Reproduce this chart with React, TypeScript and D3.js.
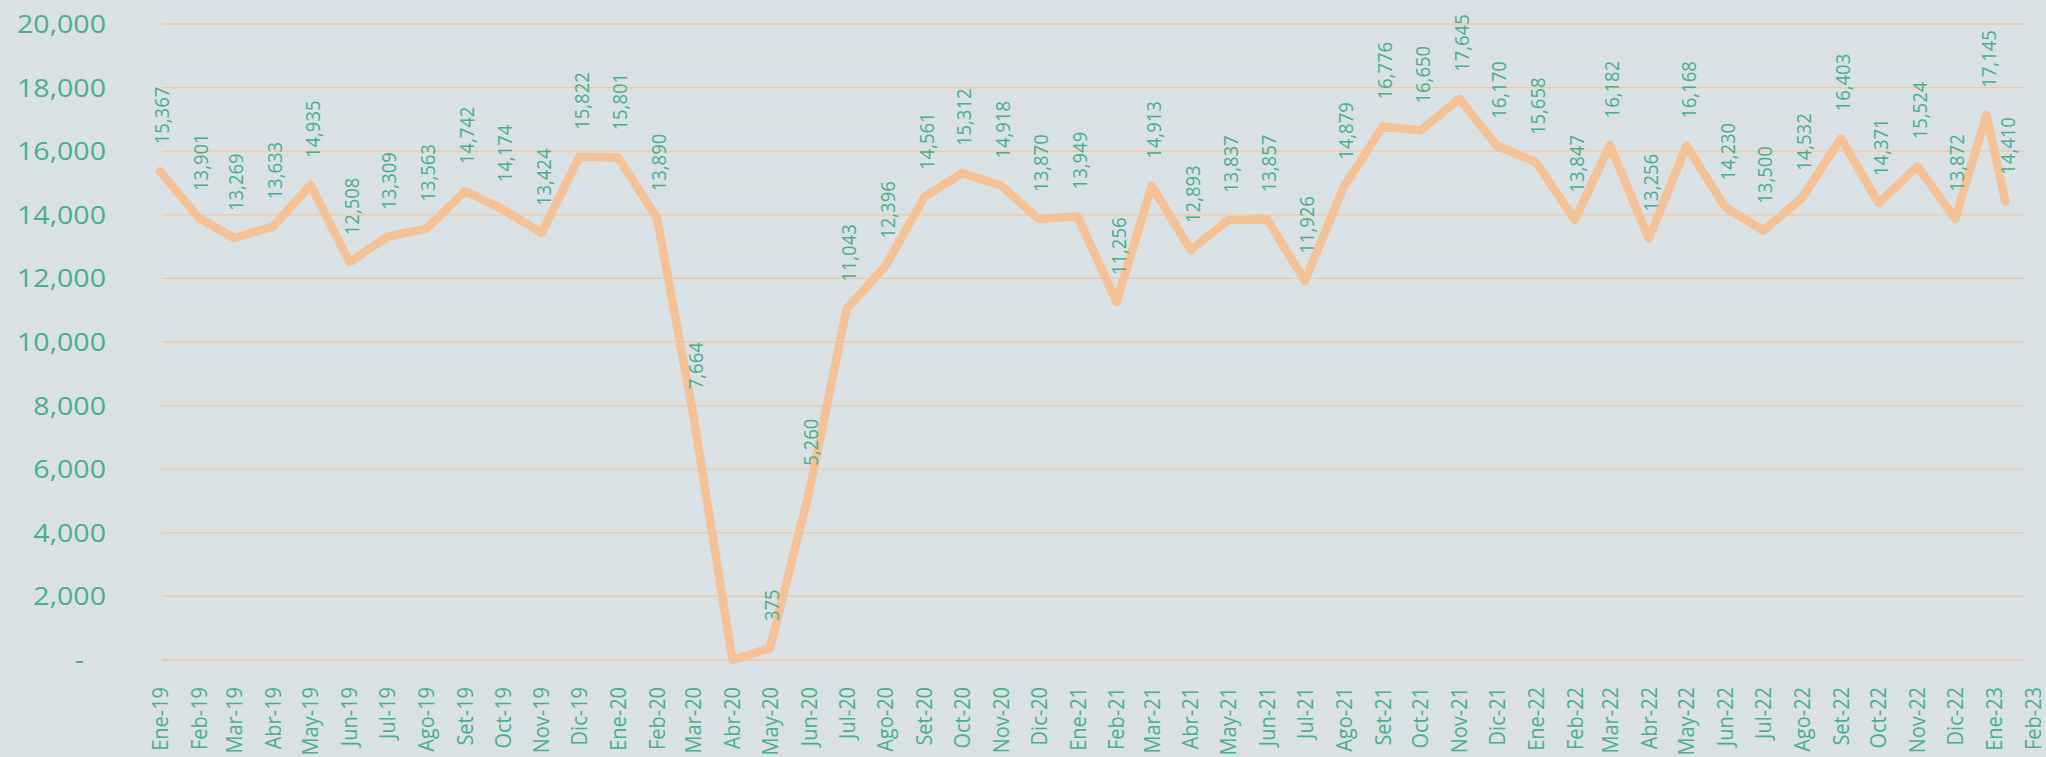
import React, { useEffect, useRef } from 'react';
import * as d3 from 'd3';

// month labels on the x axis
const months = [
  'Ene-19', 'Feb-19', 'Mar-19', 'Abr-19', 'May-19', 'Jun-19', 'Jul-19', 'Ago-19', 'Set-19', 'Oct-19', 'Nov-19', 'Dic-19',
  'Ene-20', 'Feb-20', 'Mar-20', 'Abr-20', 'May-20', 'Jun-20', 'Jul-20', 'Ago-20', 'Set-20', 'Oct-20', 'Nov-20', 'Dic-20',
  'Ene-21', 'Feb-21', 'Mar-21', 'Abr-21', 'May-21', 'Jun-21', 'Jul-21', 'Ago-21', 'Set-21', 'Oct-21', 'Nov-21', 'Dic-21',
  'Ene-22', 'Feb-22', 'Mar-22', 'Abr-22', 'May-22', 'Jun-22', 'Jul-22', 'Ago-22', 'Set-22', 'Oct-22', 'Nov-22', 'Dic-22',
  'Ene-23', 'Feb-23',
];

// first day of every labelled month
const monthDates = months.map((_, i) => new Date(Date.UTC(2019, i, 1)));

// dates the values are plotted at (last two fall inside the month, as in the original)
const pointDates = [
  ...monthDates.slice(0, 48),
  new Date(Date.UTC(2022, 11, 26)),
  new Date(Date.UTC(2023, 0, 10)),
];

const values = [
  15367, 13901, 13269, 13633, 14935, 12508, 13309, 13563, 14742, 14174, 13424, 15822,
  15801, 13890, 7664, 0, 375, 5260, 11043, 12396, 14561, 15312, 14918, 13870,
  13949, 11256, 14913, 12893, 13837, 13857, 11926, 14879, 16776, 16650, 17645, 16170,
  15658, 13847, 16182, 13256, 16168, 14230, 13500, 14532, 16403, 14371, 15524, 13872,
  17145, 14410,
];

const yTicks = [0, 2000, 4000, 6000, 8000, 10000, 12000, 14000, 16000, 18000, 20000];

const GREEN = '#4aae8c';
const FONT = '"Open Sans", "DejaVu Sans", sans-serif';

export default function App() {
  const svgRef = useRef<SVGSVGElement>(null);

  useEffect(() => {
    const width = 2046;
    const height = 757;
    const plotLeft = 162;
    const plotRight = 2024;

    const svg = d3.select(svgRef.current).attr('width', width).attr('height', height);
    svg.selectAll('*').remove();

    svg.append('rect').attr('width', width).attr('height', height).attr('fill', '#d9e1e4');

    const x = d3
      .scaleUtc()
      .domain([monthDates[0], monthDates[monthDates.length - 1]])
      .range([160, 2033]);
    const y = d3.scaleLinear().domain([0, 20000]).range([660, 24]);

    // gridlines
    svg
      .append('g')
      .selectAll('line')
      .data(yTicks)
      .join('line')
      .attr('x1', plotLeft)
      .attr('x2', plotRight)
      .attr('y1', (d) => y(d))
      .attr('y2', (d) => y(d))
      .attr('stroke', (d) => (d === 0 ? '#eccbb2' : '#f3c6a1'))
      .attr('stroke-width', (d) => (d === 0 ? 2 : 1.3));

    // y labels
    const fmt = d3.format(',');
    svg
      .append('g')
      .selectAll('text')
      .data(yTicks)
      .join('text')
      .attr('transform', (d) => `translate(${d === 0 ? 84 : 106},${y(d)}) scale(1.12,1)`)
      .attr('dy', '0.35em')
      .attr('text-anchor', 'end')
      .attr('font-family', FONT)
      .attr('font-size', 25.5)
      .attr('fill', GREEN)
      .text((d) => (d === 0 ? '-' : fmt(d)));

    // x labels
    svg
      .append('g')
      .selectAll('text')
      .data(months)
      .join('text')
      .attr('transform', (d, i) => `translate(${x(monthDates[i])},687) rotate(-90) scale(1,1.12)`)
      .attr('dy', '0.35em')
      .attr('text-anchor', 'end')
      .attr('font-family', FONT)
      .attr('font-size', 20)
      .attr('fill', GREEN)
      .text((d) => d);

    const pts = values.map((v, i) => ({ date: pointDates[i], value: v }));

    const line = d3
      .line<{ date: Date; value: number }>()
      .x((d) => x(d.date))
      .y((d) => y(d.value));

    svg
      .append('path')
      .datum(pts)
      .attr('d', line)
      .attr('fill', 'none')
      .attr('stroke', '#f5c197')
      .attr('stroke-width', 8.5)
      .attr('stroke-linejoin', 'round')
      .attr('stroke-linecap', 'round');

    // data labels
    svg
      .append('g')
      .selectAll('text')
      .data(pts.filter((d) => d.value > 0))
      .join('text')
      .attr('transform', (d) => `translate(${x(d.date) + 2},${y(d.value) - 27}) rotate(-90) scale(1,1.12)`)
      .attr('dy', '0.35em')
      .attr('text-anchor', 'start')
      .attr('font-family', FONT)
      .attr('font-size', 18.5)
      .attr('fill', GREEN)
      .text((d) => fmt(d.value));
  }, []);

  return <svg ref={svgRef} style={{ position: 'absolute', left: 0, top: 0, display: 'block' }}></svg>;
}
